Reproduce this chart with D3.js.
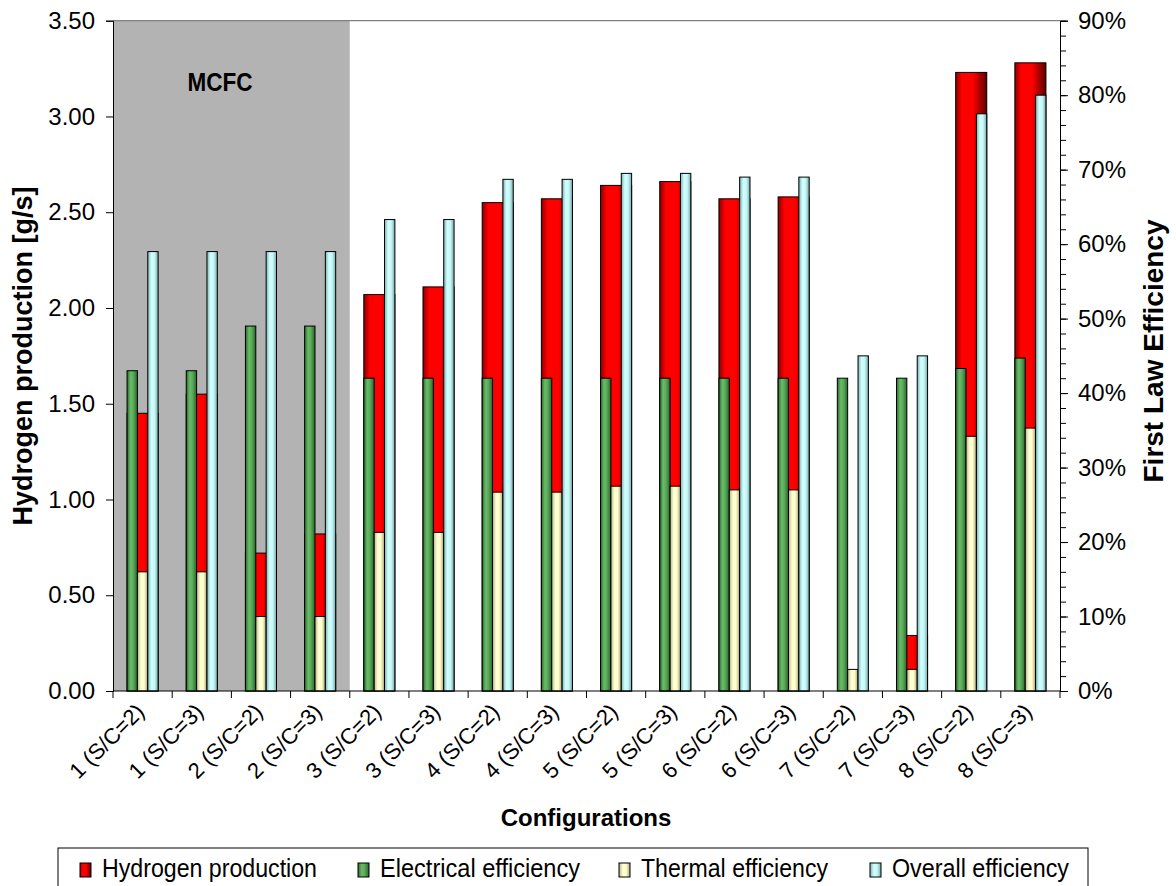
<!DOCTYPE html>
<html>
<head>
<meta charset="utf-8">
<script src="https://cdn.jsdelivr.net/npm/d3@7"></script>
<style>
  html, body { margin: 0; padding: 0; background: #fff; }
  svg { display: block; font-family: "Liberation Sans", Arial, sans-serif; }
</style>
</head>
<body>
<svg id="chart" width="1176" height="886"></svg>
<script>
// Configurations (x categories)
const categories = [
  "1 (S/C=2)", "1 (S/C=3)", "2 (S/C=2)", "2 (S/C=3)",
  "3 (S/C=2)", "3 (S/C=3)", "4 (S/C=2)", "4 (S/C=3)",
  "5 (S/C=2)", "5 (S/C=3)", "6 (S/C=2)", "6 (S/C=3)",
  "7 (S/C=2)", "7 (S/C=3)", "8 (S/C=2)", "8 (S/C=3)"
];
// Hydrogen production [g/s] (left axis)
const hydrogen = [1.45, 1.55, 0.72, 0.82, 2.07, 2.11, 2.55, 2.57, 2.64, 2.66, 2.57, 2.58, 0.0, 0.29, 3.23, 3.28];
// First law efficiencies [%] (right axis)
const electrical = [43, 43, 49, 49, 42, 42, 42, 42, 42, 42, 42, 42, 42, 42, 43.3, 44.7];
const thermal    = [16, 16, 10, 10, 21.3, 21.3, 26.7, 26.7, 27.5, 27.5, 27, 27, 2.9, 2.9, 34.2, 35.3];
const overall    = [59, 59, 59, 59, 63.3, 63.3, 68.7, 68.7, 69.5, 69.5, 69, 69, 45, 45, 77.5, 80];
// Axis ticks
const leftTicks  = [0, 0.5, 1, 1.5, 2, 2.5, 3, 3.5];
const rightTicks = [0, 10, 20, 30, 40, 50, 60, 70, 80, 90];
const rightMinor = d3.range(0, 91, 2);
// MCFC group covers the first four configurations
const mcfcGroup = categories.slice(0, 4);
const legendItems = ["Hydrogen production", "Electrical efficiency", "Thermal efficiency", "Overall efficiency"];

const svg = d3.select("#chart");
const plot = { left: 113, right: 1060, top: 20.7, bottom: 691 };

const x = d3.scaleBand().domain(categories).range([plot.left, plot.right]).padding(0);
const yL = d3.scaleLinear().domain([0, 3.5]).range([plot.bottom, plot.top]);
const yR = d3.scaleLinear().domain([0, 90]).range([plot.bottom, plot.top]);

// gradient fills
const defs = svg.append("defs");
function grad(id, stops) {
  const g = defs.append("linearGradient").attr("id", id).attr("x1", 0).attr("x2", 1).attr("y1", 0).attr("y2", 0);
  stops.forEach(([o, c]) => g.append("stop").attr("offset", o).attr("stop-color", c));
}
grad("gRed",   [[0, "#8b0000"], [0.2, "#ff0000"], [0.55, "#ff0000"], [1, "#5a0000"]]);
grad("gGreen", [[0, "#2e6b2e"], [0.35, "#68bd68"], [0.6, "#5aaa5a"], [1, "#2a662a"]]);
grad("gCream", [[0, "#b4b48c"], [0.35, "#ffffd2"], [0.65, "#ffffcc"], [1, "#a4a47c"]]);
grad("gBlue",  [[0, "#80b0b0"], [0.35, "#d0ffff"], [0.65, "#c6f8f8"], [1, "#7aa6a6"]]);

// MCFC shaded region
svg.append("rect")
  .attr("x", x(mcfcGroup[0]))
  .attr("y", plot.top)
  .attr("width", x(mcfcGroup[mcfcGroup.length - 1]) + x.bandwidth() - x(mcfcGroup[0]))
  .attr("height", plot.bottom - plot.top)
  .attr("fill", "#b3b3b3");

svg.append("text")
  .attr("x", 220).attr("y", 91)
  .attr("text-anchor", "middle")
  .attr("font-weight", "bold").attr("font-size", 26)
  .attr("textLength", 65).attr("lengthAdjust", "spacingAndGlyphs")
  .text("MCFC");

// top border of plot area
svg.append("line")
  .attr("x1", plot.left).attr("x2", plot.right)
  .attr("y1", plot.top).attr("y2", plot.top)
  .attr("stroke", "#808080").attr("stroke-width", 1.2);

const bw = x.bandwidth() * 0.175;
const center = c => x(c) + x.bandwidth() / 2;

// hydrogen bar behind the efficiency cluster
svg.append("g").selectAll("rect")
  .data(categories.map((c, i) => ({ c, v: hydrogen[i] })).filter(d => d.v > 0))
  .join("rect")
  .attr("x", d => center(d.c) - 1.5 * bw)
  .attr("width", 3 * bw)
  .attr("y", d => yL(d.v))
  .attr("height", d => yL(0) - yL(d.v))
  .attr("fill", "url(#gRed)")
  .attr("stroke", "#000").attr("stroke-width", 1);

function effBars(values, offset, fill) {
  svg.append("g").selectAll("rect")
    .data(categories.map((c, i) => ({ c, v: values[i] })))
    .join("rect")
    .attr("x", d => center(d.c) + offset * bw)
    .attr("width", bw)
    .attr("y", d => yR(d.v))
    .attr("height", d => yR(0) - yR(d.v))
    .attr("fill", fill)
    .attr("stroke", "#000").attr("stroke-width", 1);
}
effBars(electrical, -1.5, "url(#gGreen)");
effBars(thermal, -0.5, "url(#gCream)");
effBars(overall, 0.5, "url(#gBlue)");

// left axis
const axL = svg.append("g").attr("transform", `translate(${plot.left},0)`)
  .call(d3.axisLeft(yL).tickValues(leftTicks).tickFormat(d3.format(".2f")).tickSize(7).tickPadding(11));
// right axis with minor ticks
const axRm = svg.append("g").attr("transform", `translate(${plot.right},0)`)
  .call(d3.axisRight(yR).tickValues(rightMinor).tickFormat("").tickSize(6));
axRm.select(".domain").remove();
const axR = svg.append("g").attr("transform", `translate(${plot.right},0)`)
  .call(d3.axisRight(yR).tickValues(rightTicks).tickFormat(d => d + "%").tickSize(8).tickPadding(10));
// bottom axis with ticks at category boundaries
const axB = svg.append("g").attr("transform", `translate(0,${plot.bottom})`);
axB.append("line").attr("x1", plot.left).attr("x2", plot.right).attr("stroke", "#000");
axB.selectAll("line.tk")
  .data(categories.map(c => x(c)).concat([plot.right]))
  .join("line").attr("class", "tk")
  .attr("x1", d => d).attr("x2", d => d).attr("y1", 0).attr("y2", 7)
  .attr("stroke", "#000");
axB.selectAll("text")
  .data(categories)
  .join("text")
  .attr("transform", d => `translate(${center(d) + 3},${22}) rotate(-45)`)
  .attr("text-anchor", "end")
  .attr("font-size", 22)
  .text(d => d);

[axL, axR].forEach(a => {
  a.selectAll("text").attr("font-size", 24).attr("font-family", "Liberation Sans, Arial, sans-serif").attr("fill", "#000");
  a.selectAll("line, path").attr("stroke", "#000");
});
axRm.selectAll("line").attr("stroke", "#000");

// axis titles
svg.append("text")
  .attr("transform", `translate(32,356) rotate(-90)`)
  .attr("text-anchor", "middle")
  .attr("font-weight", "bold").attr("font-size", 27)
  .text("Hydrogen production [g/s]");
svg.append("text")
  .attr("transform", `translate(1163,351) rotate(-90)`)
  .attr("text-anchor", "middle")
  .attr("font-weight", "bold").attr("font-size", 28)
  .text("First Law Efficiency");
svg.append("text")
  .attr("x", 586).attr("y", 826)
  .attr("text-anchor", "middle")
  .attr("font-weight", "bold").attr("font-size", 24)
  .text("Configurations");

// legend
svg.append("rect").attr("x", 58).attr("y", 848).attr("width", 1030).attr("height", 50)
  .attr("fill", "#fff").attr("stroke", "#000");
const legendFills = ["url(#gRed)", "url(#gGreen)", "url(#gCream)", "url(#gBlue)"];
const legendSwX = [80, 358, 619, 870];
const legendLen = [215, 200, 187, 177];
const lg = svg.append("g").selectAll("g").data(legendItems).join("g");
lg.append("rect")
  .attr("x", (d, i) => legendSwX[i]).attr("y", 863).attr("width", 11).attr("height", 14)
  .attr("fill", (d, i) => legendFills[i]).attr("stroke", "#000");
lg.append("text")
  .attr("x", (d, i) => legendSwX[i] + 22).attr("y", 877)
  .attr("font-size", 25)
  .attr("textLength", (d, i) => legendLen[i]).attr("lengthAdjust", "spacingAndGlyphs")
  .text(d => d);
</script>
</body>
</html>
